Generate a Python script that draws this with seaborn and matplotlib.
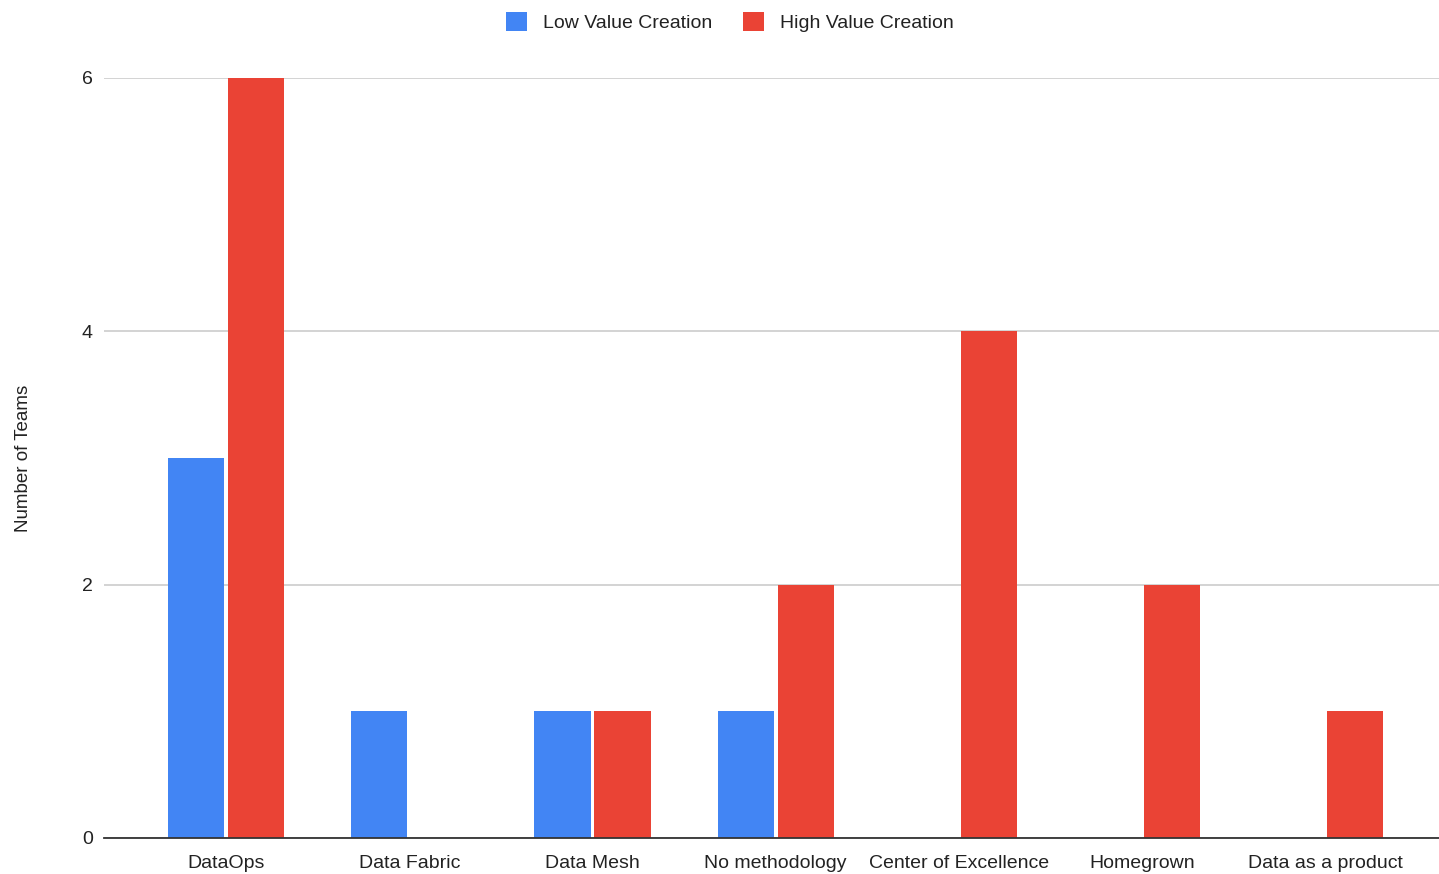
import matplotlib
matplotlib.use("Agg")
import matplotlib.pyplot as plt
import seaborn as sns
import pandas as pd
from matplotlib.patches import Patch

categories = ["DataOps", "Data Fabric", "Data Mesh", "No methodology",
              "Center of Excellence", "Homegrown", "Data as a product"]
low_values = [3, 1, 1, 1, 0, 0, 0]
high_values = [6, 0, 1, 2, 4, 2, 1]
series_names = ["Low Value Creation", "High Value Creation"]
colors = ["#4285F4", "#EA4335"]

df = pd.DataFrame({
    "category": categories * 2,
    "value": low_values + high_values,
    "series": [series_names[0]] * len(categories) + [series_names[1]] * len(categories),
})

sns.set_theme(style="white")
plt.rcParams["font.family"] = ["Liberation Sans", "DejaVu Sans"]

fig = plt.figure(figsize=(14.39, 8.74), dpi=100)
ax = fig.add_axes([104 / 1439, (874 - 838) / 874, 1 - 104 / 1439, 760 / 874])

sns.barplot(data=df, x="category", y="value", hue="series", order=categories,
            hue_order=series_names, palette=colors, saturation=1, width=0.655, gap=0.066,
            linewidth=0, ax=ax, legend=False)

ax.set_xlim(-0.666, 6.62)
ax.set_ylim(0, 6)
ax.set_yticks([0, 2, 4, 6])
ax.set_yticklabels(["0", "2", "4", "6"])
ax.yaxis.grid(True, color="#cccccc", linewidth=1.2)
ax.set_axisbelow(True)
for s in ["top", "right", "left"]:
    ax.spines[s].set_visible(False)
ax.spines["bottom"].set_color("#333333")
ax.spines["bottom"].set_linewidth(1.3)
ax.tick_params(axis="x", length=0, pad=12, labelsize=14, labelcolor="#222222")
ax.tick_params(axis="y", length=0, pad=8, labelsize=14, labelcolor="#222222")
ax.set_xlabel("")
ax.set_ylabel("Number of Teams", fontsize=13.5, color="#222222", labelpad=0)
ax.yaxis.set_label_coords(-0.054, 0.5)

handles = [Patch(facecolor=c, edgecolor="none") for c in colors]
fig.legend(handles, series_names, loc="upper center", bbox_to_anchor=(0.507, 1.006),
           ncol=2, frameon=False, fontsize=14, handlelength=1.1, handleheight=1.1,
           columnspacing=1.6, handletextpad=0.8, labelcolor="#222222")

fig.savefig("out.png", dpi=100)
